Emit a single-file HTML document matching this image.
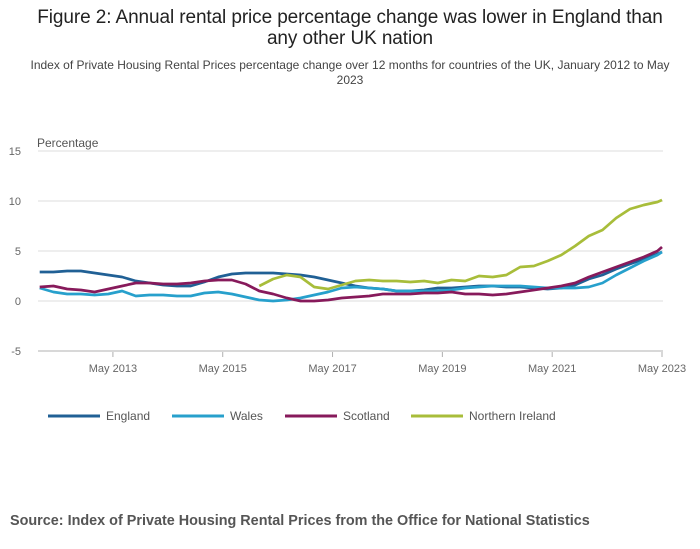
<!DOCTYPE html>
<html><head><meta charset="utf-8"><style>
body{margin:0;background:#fff;font-family:"Liberation Sans",sans-serif;}
#wrap{position:relative;width:700px;height:549px;overflow:hidden;}
.title{position:absolute;left:0;width:700px;text-align:center;font-size:19px;color:#222;top:7px;line-height:21px;letter-spacing:-0.1px;}
.sub{position:absolute;left:20px;width:660px;text-align:center;font-size:12px;color:#444;top:58px;line-height:15px;}
.src{position:absolute;left:10px;top:513px;font-size:14.4px;font-weight:bold;color:#555;}
</style></head><body>
<div id="wrap">
<div class="title">Figure 2: Annual rental price percentage change was lower in England than<br>any other UK nation</div>
<div class="sub">Index of Private Housing Rental Prices percentage change over 12 months for countries of the UK, January 2012 to May 2023</div>
<svg id="chart" width="700" height="549" style="position:absolute;left:0;top:0"></svg>
<div class="src">Source: Index of Private Housing Rental Prices from the Office for National Statistics</div>
</div>
<script>
const months=[];for(let k=0;k<=45;k++)months.push(3*k);months.push(136);
const england=[2.9,2.9,3.0,3.0,2.8,2.6,2.4,2.0,1.8,1.6,1.5,1.5,1.9,2.4,2.7,2.8,2.8,2.8,2.7,2.6,2.4,2.1,1.8,1.5,1.3,1.2,1.0,1.0,1.1,1.3,1.3,1.4,1.5,1.5,1.4,1.4,1.3,1.2,1.3,1.6,2.2,2.6,3.2,3.7,4.2,4.7,4.9];
const wales=[1.3,0.9,0.7,0.7,0.6,0.7,1.0,0.5,0.6,0.6,0.5,0.5,0.8,0.9,0.7,0.4,0.1,0.0,0.1,0.3,0.6,0.9,1.3,1.4,1.3,1.2,1.0,1.0,1.0,1.0,1.1,1.3,1.4,1.5,1.5,1.5,1.4,1.3,1.3,1.3,1.4,1.8,2.6,3.3,4.0,4.6,4.9];
const scotland=[1.4,1.5,1.2,1.1,0.9,1.2,1.5,1.8,1.8,1.7,1.7,1.8,2.0,2.1,2.1,1.7,1.0,0.7,0.3,0.0,0.0,0.1,0.3,0.4,0.5,0.7,0.7,0.7,0.8,0.8,0.9,0.7,0.7,0.6,0.7,0.9,1.1,1.3,1.5,1.8,2.4,2.9,3.4,3.9,4.4,5.0,5.4];
const nireland=[null,null,null,null,null,null,null,null,null,null,null,null,null,null,null,null,1.5,2.2,2.6,2.4,1.4,1.2,1.6,2.0,2.1,2.0,2.0,1.9,2.0,1.8,2.1,2.0,2.5,2.4,2.6,3.4,3.5,4.0,4.6,5.5,6.5,7.1,8.3,9.2,9.6,9.9,10.1];
const yTicks=[15,10,5,0,-5];
const xTickLabels=["May 2013","May 2015","May 2017","May 2019","May 2021","May 2023"];
const xTickMonths=[16,40,64,88,112,136];
const seriesNames=["England","Wales","Scotland","Northern Ireland"];
const colors=["#206095","#27a0cc","#871a5b","#a8bd3a"];
const X=m=>39.7+m*(662-39.7)/136;
const Y=v=>301-v*10;
const svg=document.getElementById('chart');const NS="http://www.w3.org/2000/svg";
function mk(t,a){const e=document.createElementNS(NS,t);for(const k in a)e.setAttribute(k,a[k]);svg.appendChild(e);return e;}
yTicks.forEach(v=>{
 const l=mk('line',{x1:38,x2:663,y1:Y(v),y2:Y(v),stroke:v===-5?'#b0b0b0':'#dcdcdc','stroke-width':1});
 
 
 const t=mk('text',{x:21,y:Y(v)+4,'text-anchor':'end','font-size':11,fill:'#666','font-family':'Liberation Sans'});t.textContent=v;
 
 
});
const yt=mk('text',{x:37,y:147,'font-size':12,fill:'#555','font-family':'Liberation Sans'});yt.textContent='Percentage';


xTickMonths.forEach((m,i)=>{
 const tk=mk('line',{x1:X(m),x2:X(m),y1:352,y2:357,stroke:'#b0b0b0'});
 
 
 const t=mk('text',{x:X(m),y:372,'text-anchor':'middle','font-size':11,fill:'#666','font-family':'Liberation Sans'});t.textContent=xTickLabels[i];
 
 
});
[england,wales,scotland,nireland].forEach((s,si)=>{
 let d='';let started=false;
 s.forEach((v,i)=>{if(v===null)return;d+=(started?'L':'M')+X(months[i]).toFixed(1)+','+Y(v).toFixed(1);started=true;});
 const p=mk('path',{d:d,fill:'none',stroke:colors[si],'stroke-width':2.7,'stroke-linejoin':'round'});
 
 
});
const lx=[48,172,285,411];
seriesNames.forEach((n,i)=>{
 const l=mk('line',{x1:lx[i],x2:lx[i]+52,y1:416,y2:416,stroke:colors[i],'stroke-width':3});
 
 
 const t=mk('text',{x:lx[i]+58,y:420,'font-size':12,fill:'#555','font-family':'Liberation Sans'});t.textContent=n;
 
 
});
</script>
</body></html>
